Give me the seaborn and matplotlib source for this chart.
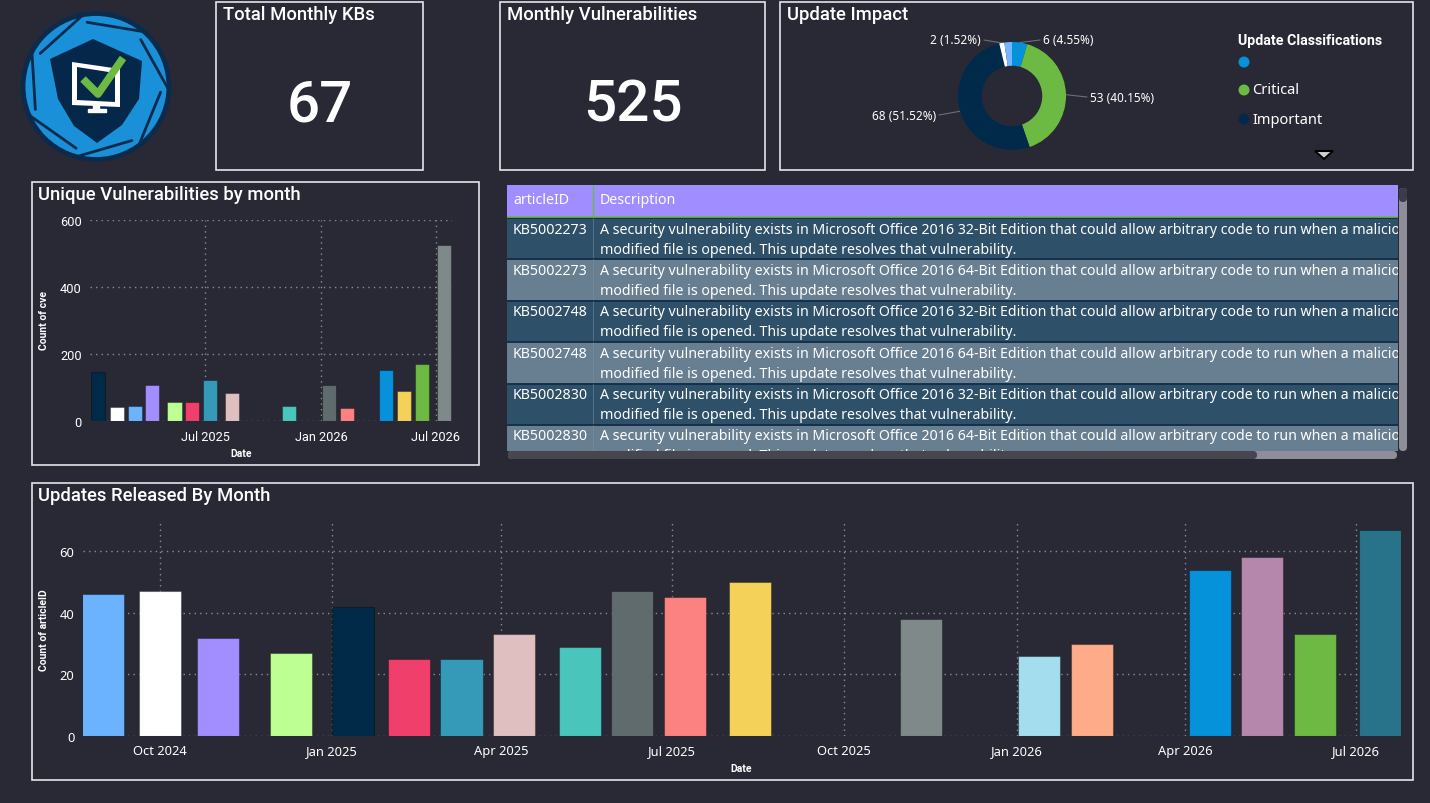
import matplotlib
matplotlib.use("Agg")
import matplotlib.pyplot as plt
import matplotlib.dates as mdates
from matplotlib.patches import Rectangle, Circle, Polygon, FancyBboxPatch
import numpy as np
import pandas as pd
import seaborn as sns

sns.set_style("dark")
plt.rcParams['font.family'] = ['Roboto', 'DejaVu Sans']

W, H = 1430, 804
BG = "#292935"
GRID = "#8C8C96"
TITLE_FONT = ['Roboto', 'DejaVu Sans']
TEXT_FONT = ['Noto Sans', 'DejaVu Sans']

# ---- data ----
kpi_titles = ["Total Monthly KBs", "Monthly Vulnerabilities"]
kpi_values = ["67", "525"]

impact_labels = ["", "Critical", "Important", "Other A", "Other B"]
impact_counts = [6, 53, 68, 2, 3]
impact_colors = ["#0691DB", "#6CB944", "#012A4A", "#FFFFFF", "#74B6FF"]
impact_shown = [True, True, True, True, False]

vuln_dates = ["2025-01-12", "2025-02-11", "2025-03-11", "2025-04-08", "2025-05-13",
              "2025-06-10", "2025-07-08", "2025-08-12", "2025-11-11", "2026-01-13",
              "2026-02-10", "2026-04-14", "2026-05-12", "2026-06-09", "2026-07-14"]
vuln_counts = [146, 42, 47, 108, 58, 57, 122, 84, 45, 107, 39, 152, 90, 172, 525]
vuln_colors = ["#012A48", "#FFFFFF", "#6BB2FF", "#A28EFF", "#BEFF93", "#F03F6A",
               "#359AB8", "#DFBFBF", "#4AC5BB", "#5F6B6D", "#FB8281", "#0691DB",
               "#F4D25A", "#6DB944", "#7F898A"]
vuln_ticks = ["2025-07-01", "2026-01-01", "2026-07-01"]
vuln_ticklabels = ["Jul 2025", "Jan 2026", "Jul 2026"]
vuln_yticks = [0, 200, 400, 600]

upd_dates = ["2024-09-01", "2024-10-01", "2024-11-01", "2024-12-10", "2025-01-12",
             "2025-02-11", "2025-03-11", "2025-04-08", "2025-05-13", "2025-06-10",
             "2025-07-08", "2025-08-12", "2025-11-11", "2026-01-13", "2026-02-10",
             "2026-04-14", "2026-05-12", "2026-06-09", "2026-07-14"]
upd_counts = [46, 47, 32, 27, 42, 25, 25, 33, 29, 47, 45, 50, 38, 26, 30, 54, 58, 33, 67]
upd_colors = ["#6BB2FF", "#FFFFFF", "#A28EFF", "#BEFF93", "#012A48", "#F03F6A",
              "#359AB8", "#DFBFBF", "#4AC5BB", "#5F6B6D", "#FB8281", "#F4D25A",
              "#7F898A", "#A4DDEE", "#FDAB89", "#0691DB", "#B687AC", "#6DB944", "#28738A"]
upd_ticks = ["2024-10-01", "2025-01-01", "2025-04-01", "2025-07-01",
             "2025-10-01", "2026-01-01", "2026-04-01", "2026-07-01"]
upd_ticklabels = ["Oct 2024", "Jan 2025", "Apr 2025", "Jul 2025",
                  "Oct 2025", "Jan 2026", "Apr 2026", "Jul 2026"]
upd_yticks = [0, 20, 40, 60]

table_columns = ["articleID", "Description"]
table_ids = ["KB5002273", "KB5002273", "KB5002748", "KB5002748", "KB5002830", "KB5002830"]
table_editions = ["32-Bit", "64-Bit", "32-Bit", "64-Bit", "32-Bit", "64-Bit"]
desc_line1 = ("A security vulnerability exists in Microsoft Office 2016 {} Edition that "
              "could allow arbitrary code to run when a maliciously")
desc_line2 = "modified file is opened. This update resolves that vulnerability."


def box(x0, y0, x1, y1):
    return [x0 / W, 1 - y1 / H, (x1 - x0) / W, (y1 - y0) / H]


fig = plt.figure(figsize=(W / 100, H / 100), dpi=100, facecolor=BG)

# overlay in pixel coords for frames, text, logo
ov = fig.add_axes([0, 0, 1, 1])
ov.set_xlim(0, W)
ov.set_ylim(H, 0)
ov.axis("off")


def frame(x0, y0, x1, y1):
    ov.add_patch(Rectangle((x0, y0), x1 - x0, y1 - y0, fill=False,
                           edgecolor="#E4E4E8", linewidth=1.2))


def title(x, y, s):
    ov.text(x, y, s, color="white", fontsize=13.3, family=TITLE_FONT,
            weight="medium", va="center", ha="left")


# ---- logo ----
cx, cy, r = 96, 87.5, 73
ov.add_patch(Circle((cx, cy), r, facecolor="#1990D8", edgecolor="#0C2B4C", linewidth=3.5))
clip = Circle((cx, cy), r - 2, transform=ov.transData)
shield = [(50, 60), (93, 40), (142, 62), (139, 100), (122, 126), (97, 144), (74, 127), (58, 100)]
sh = Polygon(shield, closed=True, facecolor="#05284A", edgecolor="none")
ov.add_patch(sh)
sh.set_clip_path(clip)
for k in range(7):
    a = np.deg2rad(100 + k * 360 / 7)
    p0 = np.array([cx + r * np.cos(a), cy - r * np.sin(a)])
    d = a + np.deg2rad(180 - 58)
    p1 = p0 + 58 * np.array([np.cos(d), -np.sin(d)])
    ln, = ov.plot([p0[0], p1[0]], [p0[1], p1[1]], color="#0C2B4C", linewidth=2.0)
    ln.set_clip_path(clip)
ov.add_patch(Polygon([(72, 63), (120, 70), (120, 108), (72, 106)], closed=True,
                     facecolor="white", edgecolor="none"))
ov.add_patch(Polygon([(77, 68), (115, 74), (115, 103), (77, 101)], closed=True,
                     facecolor="#05284A", edgecolor="none"))
ov.add_patch(Rectangle((93, 106), 6, 6, facecolor="white"))
ov.add_patch(Rectangle((88, 110), 18, 3, facecolor="white"))
ov.plot([83, 98, 123], [80, 95, 59], color="#6CB944", linewidth=5.5, solid_capstyle="butt")

# ---- KPI cards ----
kpi_boxes = [(216, 3, 423, 171), (500, 3, 765, 171)]
for (x0, y0, x1, y1), t, v in zip(kpi_boxes, kpi_titles, kpi_values):
    frame(x0, y0, x1, y1)
    title(x0 + 7, 15, t)
    ov.text((x0 + x1) / 2, 106, v, color="white", fontsize=42, family=TITLE_FONT,
            weight="medium", ha="center", va="center")

# ---- donut ----
frame(780, 3, 1413, 171)
title(787, 15, "Update Impact")
dcx, dcy, dr = 1012, 97, 54
dax = fig.add_axes(box(dcx - 60, dcy - 60, dcx + 60, dcy + 60))
dax.pie(impact_counts, colors=impact_colors, startangle=90, counterclock=False,
        radius=1, wedgeprops=dict(width=0.44, edgecolor="none"))
dax.set_xlim(-60 / dr, 60 / dr)
dax.set_ylim(-60 / dr, 60 / dr)
dax.axis("off")

total = sum(impact_counts)
label_pos = [(1043, 41, "left"), (1090, 98, "left"), (936, 116, "right"), (981, 41, "right"), None]
cum = 0
for cnt, shown, lp in zip(impact_counts, impact_shown, label_pos):
    mid = 90 - (cum + cnt / 2) / total * 360
    cum += cnt
    if not shown or lp is None:
        continue
    px = dcx + dr * np.cos(np.deg2rad(mid))
    py = dcy - dr * np.sin(np.deg2rad(mid))
    lx, ly, ha = lp
    ex = lx - 3 if ha == "left" else lx + 3
    ov.plot([px, ex], [py, ly], color="#6E6E78", linewidth=0.8)
    ov.text(lx, ly, f"{cnt} ({cnt / total * 100:.2f}%)", color="white", fontsize=8.5,
            family=TEXT_FONT, ha=ha, va="center")

ov.text(1238, 41, "Update Classifications", color="white", fontsize=10.3, weight="bold",
        family=TITLE_FONT, va="center")
for i, ly in enumerate([63, 91, 120]):
    ov.add_patch(Circle((1244, ly), 5.5, facecolor=impact_colors[i], edgecolor="none"))
    ov.text(1252, ly, impact_labels[i], color="white", fontsize=10.5,
            family=TEXT_FONT, va="center")
ov.add_patch(Polygon([(1315, 152), (1333, 152), (1324, 160)], closed=True,
                     facecolor="#CFCFD4", edgecolor="black", linewidth=1.5))


# ---- bar chart helper ----
def date_bars(ax, dates, counts, colors, ticks, ticklabels, yticks, ylim, xpad, tick_font, tick_size):
    num = mdates.date2num(pd.to_datetime(dates))
    df = pd.DataFrame({"num": num, "count": counts, "month": dates})
    sns.barplot(data=df, x="num", y="count", hue="month",
                palette=dict(zip(dates, colors)), native_scale=True, dodge=False,
                legend=False, width=0.8, errorbar=None, saturation=1,
                linewidth=0.8, edgecolor=(0, 0, 0, 0.3), ax=ax)
    ax.set_facecolor("none")
    ax.set_xlim(num[0] - xpad[0], num[-1] + xpad[1])
    ax.set_ylim(*ylim)
    ax.set_xticks(mdates.date2num(pd.to_datetime(ticks)))
    ax.set_xticklabels(ticklabels)
    ax.set_yticks(yticks)
    ax.set_yticklabels([str(v) for v in yticks])
    for lab in ax.get_xticklabels() + ax.get_yticklabels():
        lab.set_color("white")
        lab.set_family(tick_font)
        lab.set_fontsize(tick_size)
    ax.tick_params(length=0, pad=6)
    ax.grid(True, axis="both", color=GRID, linestyle=(0, (1, 3)), linewidth=1)
    ax.set_axisbelow(True)
    for s in ax.spines.values():
        s.set_visible(False)
    ax.set_xlabel("")
    ax.set_ylabel("")


# ---- Unique vulnerabilities ----
frame(32, 183, 479, 466)
title(38, 195, "Unique Vulnerabilities by month")
ax1 = fig.add_axes(box(90, 220.7, 452, 422.3))
date_bars(ax1, vuln_dates, vuln_counts, vuln_colors, vuln_ticks, vuln_ticklabels,
          vuln_yticks, (0, 600), (13, 13), TITLE_FONT, 9.2)
ov.text(44, 321, "Count of cve", rotation=90, color="white", fontsize=7.5, weight="bold",
        family=TITLE_FONT, ha="center", va="center")
ov.text(241, 454, "Date", color="white", fontsize=7.5, weight="bold",
        family=TITLE_FONT, ha="center", va="center")

# ---- table (text is cut at the scrollbar like in the report) ----
tb = fig.add_axes(box(507, 186, 1398, 452))
tb.set_xlim(507, 1398)
tb.set_ylim(452, 186)
tb.axis("off")
tb.add_patch(Rectangle((507, 186), 891, 32, facecolor="#A08DFF", edgecolor="none"))
tb.text(513, 200, table_columns[0], color="white", fontsize=10.2, family=TEXT_FONT, va="center")
tb.text(600, 200, table_columns[1], color="white", fontsize=10.2, family=TEXT_FONT, va="center")
tb.plot([593, 593], [186, 218], color="#6CB944", linewidth=1)
row_top = 219
for i, (kb, ed) in enumerate(zip(table_ids, table_editions)):
    y0 = row_top + i * 41.4
    tb.add_patch(Rectangle((507, y0), 891, 41.4,
                           facecolor="#2E5068" if i % 2 == 0 else "#687F92",
                           edgecolor="none"))
    tb.plot([507, 1398], [y0, y0], color="#15304A", linewidth=1.4)
    tb.plot([593, 593], [y0, y0 + 41.4], color="#8090A0", linewidth=0.6, alpha=0.6)
    tb.text(513, y0 + 11, kb, color="white", fontsize=10.2, family=TEXT_FONT,
            va="center", clip_on=True)
    tb.text(600, y0 + 11, desc_line1.format(ed), color="white", fontsize=10.2,
            family=TEXT_FONT, va="center", clip_on=True)
    tb.text(600, y0 + 31, desc_line2, color="white", fontsize=10.2,
            family=TEXT_FONT, va="center", clip_on=True)
tb.plot([507, 1398], [218, 218], color="#6CB944", linewidth=1.2)

# scrollbars
ov.add_patch(FancyBboxPatch((1399, 189), 8, 263, boxstyle="round,pad=0,rounding_size=4",
                            facecolor="#8E8E98", edgecolor="none"))
ov.add_patch(FancyBboxPatch((1399, 189), 8, 14, boxstyle="round,pad=0,rounding_size=4",
                            facecolor="#3C3C46", edgecolor="none"))
ov.add_patch(FancyBboxPatch((508, 452), 889, 8, boxstyle="round,pad=0,rounding_size=4",
                            facecolor="#8E8E98", edgecolor="none"))
ov.add_patch(FancyBboxPatch((508, 452), 749, 8, boxstyle="round,pad=0,rounding_size=4",
                            facecolor="#46464F", edgecolor="none"))

# ---- Updates released ----
frame(32, 484, 1413, 781)
title(38, 496, "Updates Released By Month")
ax2 = fig.add_axes(box(82.7, 524, 1401, 737))
date_bars(ax2, upd_dates, upd_counts, upd_colors, upd_ticks, upd_ticklabels,
          upd_yticks, (0, 69.2), (11, 11), TEXT_FONT, 9.3)
ov.text(44, 630, "Count of articleID", rotation=90, color="white", fontsize=7.5,
        weight="bold", family=TITLE_FONT, ha="center", va="center")
ov.text(741, 769, "Date", color="white", fontsize=7.5, weight="bold",
        family=TITLE_FONT, ha="center", va="center")

fig.savefig("out.png", dpi=100, facecolor=BG)
